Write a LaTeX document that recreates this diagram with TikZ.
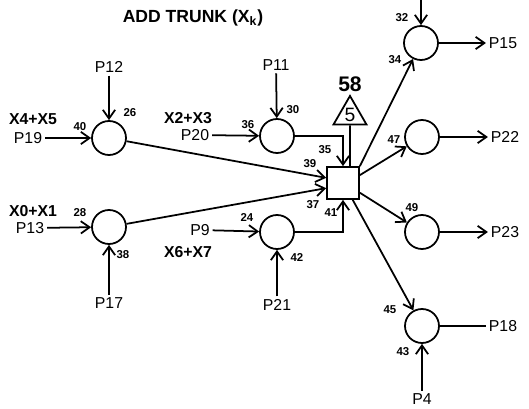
\documentclass[tikz,border=0pt]{standalone}
\usepackage{fontspec}
\setmainfont{Liberation Sans}
\usetikzlibrary{arrows.meta,shapes.geometric}

\tikzset{
    place/.style={draw, line width=1pt, circle, minimum size=0.68cm, inner sep=0pt},
    junction/.style={draw, line width=1pt, minimum size=0.64cm, inner sep=0pt},
    tri/.style={draw, line width=1pt, regular polygon, regular polygon sides=3, minimum size=0.72cm, inner sep=0pt, font=\fontsize{11}{12}\selectfont},
    flow/.style={line width=1pt, -{Straight Barb[length=5pt,width=7pt]}},
    pin/.style={font=\fontsize{6.5}{7}\selectfont\bfseries, inner sep=0pt},
    port/.style={font=\fontsize{9}{10}\selectfont, inner sep=1.5pt},
    xlab/.style={font=\fontsize{9}{10}\selectfont\bfseries, inner sep=0pt},
}

\begin{document}
\begin{tikzpicture}[x=0.02cm, y=-0.02cm]
    \useasboundingbox (0,0) rectangle (529,409);
    \node[xlab, font=\fontsize{10}{11}\selectfont\bfseries] (title) at (193,18) {ADD TRUNK (X\textsubscript{k})};

    \node[place] (c1) at (109,138) {};
    \node[place] (c2) at (277,136) {};
    \node[place] (c3) at (109,227) {};
    \node[place] (c4) at (277,232) {};
    \node[junction] (sq) at (343,183) {};
    \node[tri] (tr) at (350,115) {5};
    \node[port, font=\fontsize{12}{13}\selectfont\bfseries] (n58) at (350,84) {58};
    \node[place] (c5) at (421,43) {};
    \node[place] (c6) at (422,137) {};
    \node[place] (c7) at (422,232) {};
    \node[place] (c8) at (422,326) {};

    \node[port] (p12) at (109,67) {P12};
    \node[port] (p19) at (28,138) {P19};
    \node[xlab] (x45) at (33,119) {X4+X5};
    \node[port] (p11) at (276,65) {P11};
    \node[port] (p20) at (195,135) {P20};
    \node[xlab] (x23) at (188,118) {X2+X3};
    \node[port] (p13) at (30,228) {P13};
    \node[xlab] (x01) at (33,211) {X0+X1};
    \node[port] (p17) at (109,303) {P17};
    \node[port] (p9) at (200,230) {P9};
    \node[xlab] (x67) at (188,252) {X6+X7};
    \node[port] (p21) at (277,305) {P21};
    \node[port] (p15) at (503,43) {P15};
    \node[port] (p22) at (505,137) {P22};
    \node[port] (p23) at (505,232) {P23};
    \node[port] (p18) at (503,326) {P18};
    \node[port] (p4) at (422,399) {P4};
    \coordinate (top) at (421,0);

    \draw[flow] (p12) -- (c1);
    \draw[flow] (p19) -- (c1);
    \draw[flow] (p11) -- (c2);
    \draw[flow] (p20) -- (c2);
    \draw[flow] (p13) -- (c3);
    \draw[flow] (p17) -- (c3);
    \draw[flow] (p9) -- (c4);
    \draw[flow] (p21) -- (c4);
    \draw[flow] (c1) -- (sq.163);
    \draw[flow] (c3) -- (sq.197);
    \draw[flow] (c2) -| (sq);
    \draw[flow] (c4) -| (sq);
    \draw[line width=1pt] (tr) -- (tr |- sq.north);
    \draw[flow] (sq.north east) -- (c5);
    \draw[flow] (sq.25) -- (c6);
    \draw[flow] (sq.-30) -- (c7);
    \draw[flow] (sq.-60) -- (c8);
    \draw[flow] (top) -- (c5);
    \draw[flow] (p4) -- (c8);
    \draw[flow] (c5) -- (p15);
    \draw[flow] (c6) -- (p22);
    \draw[flow] (c7) -- (p23);
    \draw[line width=1pt] (c8) -- (p18);

    \node[pin] at (130,113) {26};
    \node[pin] at (80,127) {40};
    \node[pin] at (248,125) {36};
    \node[pin] at (293,110) {30};
    \node[pin] at (80,213) {28};
    \node[pin] at (123,255) {38};
    \node[pin] at (247,218) {24};
    \node[pin] at (297,258) {42};
    \node[pin] at (310,164) {39};
    \node[pin] at (325,150) {35};
    \node[pin] at (313,205) {37};
    \node[pin] at (331,213) {41};
    \node[pin] at (395,60) {34};
    \node[pin] at (402,18) {32};
    \node[pin] at (394,140) {47};
    \node[pin] at (412,208) {49};
    \node[pin] at (390,310) {45};
    \node[pin] at (403,352) {43};
\end{tikzpicture}
\end{document}
